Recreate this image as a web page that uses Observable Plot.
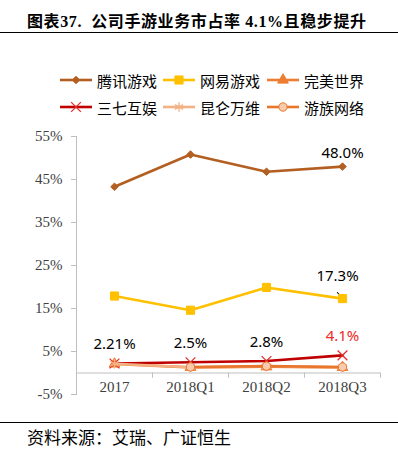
<!DOCTYPE html>
<html><head><meta charset="utf-8">
<script src="https://cdn.jsdelivr.net/npm/d3@7"></script>
<script src="https://cdn.jsdelivr.net/npm/@observablehq/plot@0.6"></script>
<style>
body{margin:0;width:398px;height:454px;position:relative;background:#fff;overflow:hidden;font-family:"Noto Sans CJK SC",sans-serif}
#title{position:absolute;left:27px;top:8px;font-size:16px;font-weight:bold;color:#000;white-space:nowrap;letter-spacing:0.6px;font-family:"Liberation Serif","Noto Sans CJK SC",serif}
#title .cjk{font-family:"Noto Sans CJK SC";}
.hr{position:absolute;left:0;width:398px;height:0;border-top:1.5px solid #000}
#legend{position:absolute;left:0;top:68px;width:398px}
.li{position:absolute;height:24px;display:flex;align-items:center;font-size:15px;color:#000;white-space:nowrap}
.li svg{margin-right:5px}
#chart{position:absolute;left:0;top:120px}
#caption{position:absolute;left:27px;top:424px;font-size:17px;color:#000;white-space:nowrap}
</style></head>
<body>
<div id="title">图表37.&nbsp; <span class="cjk">公司手游业务市占率</span> 4.1%<span class="cjk">且稳步提升</span></div>
<div class="hr" style="top:32px"></div>
<div id="legend"></div>
<div id="chart"></div>
<div class="hr" style="top:422px"></div>
<div id="caption">资料来源：艾瑞、广证恒生</div>
<script>
const categories = ["2017", "2018Q1", "2018Q2", "2018Q3"];
const seriesNames = ["腾讯游戏", "网易游戏", "完美世界", "三七互娱", "昆仑万维", "游族网络"];
const tencent = [43.3, 50.8, 46.8, 48.0];
const netease = [17.9, 14.6, 19.9, 17.3];
const perfect = [2.1, 1.3, 1.45, 1.3];
const sanqi = [2.21, 2.5, 2.8, 4.1];
const kunlun = [2.15, 1.35, 1.5, 1.35];
const youzu = [null, 1.4, 1.6, 1.4];
const yTicks = [-5, 5, 15, 25, 35, 45, 55];
const labelSeries = ["三七互娱", "三七互娱", "三七互娱", "三七互娱", "腾讯游戏", "网易游戏"];
const labelCats = ["2017", "2018Q1", "2018Q2", "2018Q3", "2018Q3", "2018Q3"];
const labelTexts = ["2.21%", "2.5%", "2.8%", "4.1%", "48.0%", "17.3%"];

const seriesValues = [tencent, netease, perfect, sanqi, kunlun, youzu];
const styles = {
  "腾讯游戏": {stroke: "#B45F22", symbol: "diamond2", r: 3.4, fill: "#B45F22", mstroke: "#B45F22"},
  "网易游戏": {stroke: "#FFC000", symbol: "square", r: 4.6, fill: "#FFC000", mstroke: "#FFC000"},
  "完美世界": {stroke: "#ED7D31", symbol: "triangle", r: 4, fill: "#ED7D31", mstroke: "#ED7D31"},
  "三七互娱": {stroke: "#C00000", symbol: "times", r: 4.5, fill: "none", mstroke: "#E03030"},
  "昆仑万维": {stroke: "#F4B183", symbol: "asterisk", r: 4.5, fill: "none", mstroke: "#F4B183"},
  "游族网络": {stroke: "#E8762C", symbol: "circle", r: 4.2, fill: "#F8CBAD", mstroke: "#E8762C"}
};

const rows = [];
seriesNames.forEach((s, k) => seriesValues[k].forEach((v, i) => rows.push({series: s, cat: categories[i], i, value: v})));
const xi = d => categories.indexOf(d.cat) + 0.5;

const labels = labelTexts.map((t, k) => {
  const s = labelSeries[k], i = categories.indexOf(labelCats[k]);
  return {series: s, cat: labelCats[k], text: t, value: seriesValues[seriesNames.indexOf(s)][i]};
});

const marks = [
  Plot.frame({anchor: "left", stroke: "#BFBFBF"}),
  Plot.ruleY([0], {stroke: "#BFBFBF"}),
  Plot.ruleX(d3.range(categories.length + 1), {x: d => d, y1: 0, y2: -1.2, stroke: "#BFBFBF"}),
  Plot.axisY({ticks: yTicks, tickFormat: d => d + "%", tickSize: 5, tickPadding: 9, stroke: "#BFBFBF", fill: "#404040", fontSize: 15, fontFamily: "Liberation Serif", label: null}),
  Plot.axisX(categories.map((c, i) => i + 0.5), {tickFormat: v => categories[Math.floor(v)], tickSize: 0, tickPadding: 0, dy: -13, fill: "#404040", fontSize: 15, fontFamily: "Liberation Serif", label: null}),
  // leader line for 17.3%
  Plot.vector(labels.filter(d => d.series === "网易游戏"), {x: xi, y: "value", length: 8, rotate: -40, anchor: "start", stroke: "#000", strokeWidth: 1,
    shape: {draw(ctx, l) { ctx.moveTo(0, 0); ctx.lineTo(0, -l); }}})
];
seriesNames.forEach(s => {
  const st = styles[s];
  const data = rows.filter(d => d.series === s);
  marks.push(Plot.line(data, {x: xi, y: "value", stroke: st.stroke, strokeWidth: 2.6, curve: "linear"}));
  marks.push(Plot.dot(data.filter(d => d.value != null), {x: xi, y: "value", symbol: st.symbol, r: st.r, fill: st.fill, stroke: st.mstroke, strokeWidth: st.fill === "none" ? 1.3 : 1}));
});
const txt = {x: xi, y: "value", text: "text", fontSize: 15, fontFamily: "Noto Sans"};
marks.push(Plot.text(labels.filter(d => d.series === "三七互娱"), {...txt, dy: -19, fill: d => d.text === "4.1%" ? "#F02828" : "#000"}));
marks.push(Plot.text(labels.filter(d => d.series === "腾讯游戏"), {...txt, dy: -13, fill: "#000"}));
marks.push(Plot.text(labels.filter(d => d.series === "网易游戏"), {...txt, dy: -22, dx: -5, fill: "#000"}));

const chart = Plot.plot({
  width: 398, height: 300,
  marginTop: 16, marginBottom: 26, marginLeft: 76, marginRight: 18,
  x: {type: "linear", domain: [0, categories.length]},
  y: {domain: [-5, 55]},
  style: {background: "transparent", overflow: "visible"},
  marks
});
document.getElementById("chart").appendChild(chart);

// legend
const leg = document.getElementById("legend");
const symMap = {diamond2: d3.symbolDiamond2, square: d3.symbolSquare, triangle: d3.symbolTriangle, times: d3.symbolTimes, asterisk: d3.symbolAsterisk, circle: d3.symbolCircle};
const lx = [60, 163, 267], ly = [0, 27];
seriesNames.forEach((s, k) => {
  const st = styles[s];
  const div = document.createElement("div");
  div.className = "li";
  div.style.left = lx[k % 3] + "px";
  div.style.top = ly[Math.floor(k / 3)] + "px";
  const path = d3.symbol(symMap[st.symbol], Math.PI * st.r * st.r)();
  div.innerHTML = `<svg width="32" height="14"><line x1="0" x2="32" y1="7" y2="7" stroke="${st.stroke}" stroke-width="2.6"/>` +
    `<path transform="translate(16,7)" d="${path}" fill="${st.fill}" stroke="${st.mstroke}" stroke-width="${st.fill === "none" ? 1.3 : 1}"/></svg>${s}`;
  leg.appendChild(div);
});
</script>
</body></html>
